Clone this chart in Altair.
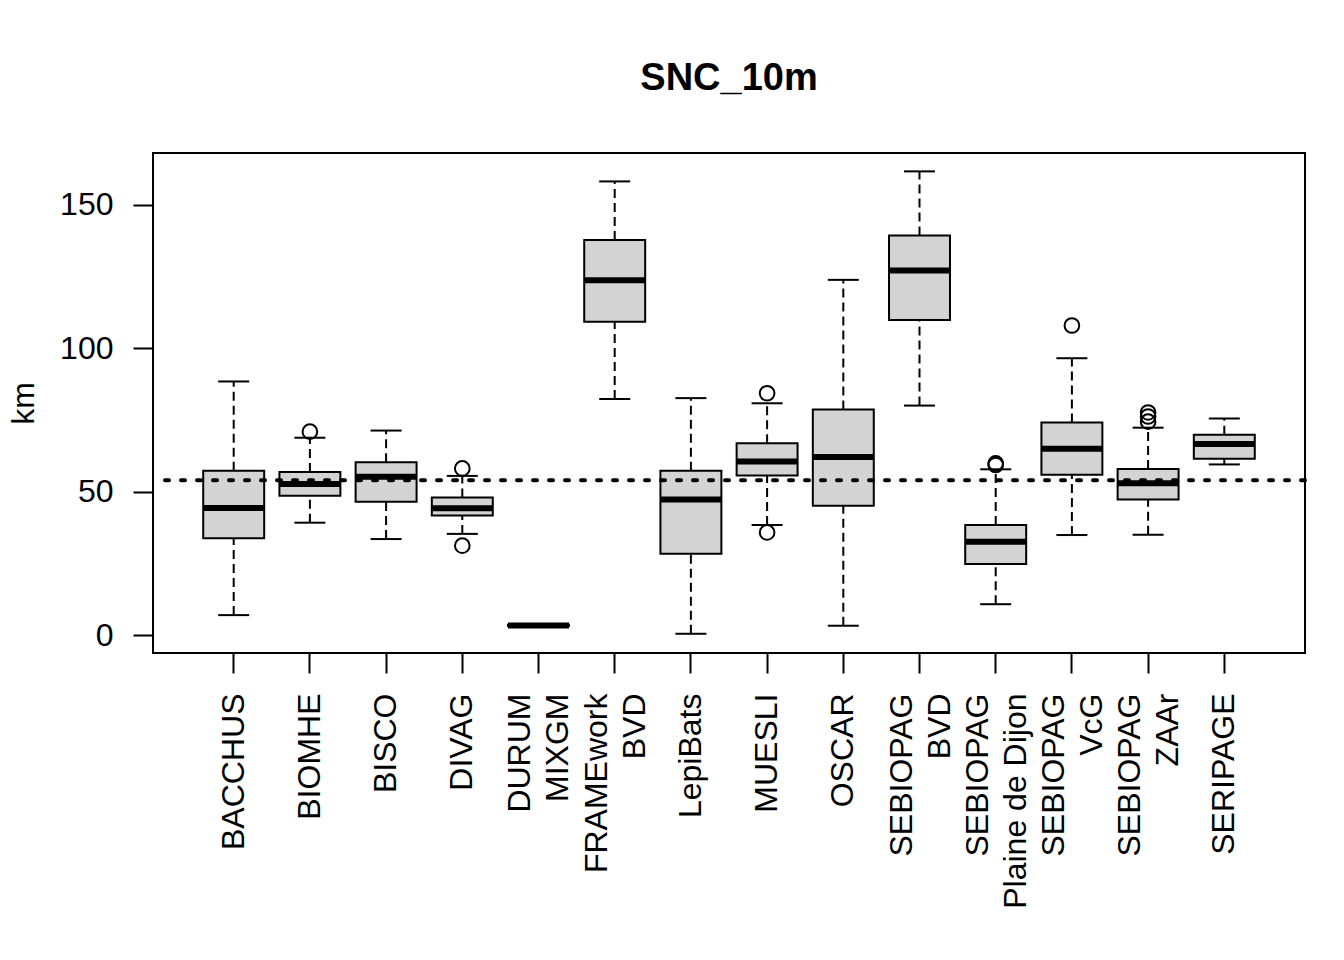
import altair as alt
import pandas as pd

categories = ["BACCHUS", "BIOMHE", "BISCO", "DIVAG", "DURUM|MIXGM", "FRAMEwork|BVD",
              "LepiBats", "MUESLI", "OSCAR", "SEBIOPAG|BVD", "SEBIOPAG|Plaine de Dijon",
              "SEBIOPAG|VcG", "SEBIOPAG|ZAAr", "SERIPAGE"]
lower_whisker = [7.0, 39.2, 33.5, 35.3, 3.1, 82.3, 0.5, 38.4, 3.3, 80.0, 10.8, 34.9, 35.0, 59.5]
q1 = [33.8, 48.6, 46.5, 41.7, 3.2, 109.2, 28.4, 55.6, 45.1, 109.8, 24.8, 55.9, 47.3, 61.5]
median = [44.3, 52.7, 55.2, 44.2, 3.4, 123.7, 47.3, 60.5, 62.1, 127.1, 32.6, 65.0, 52.9, 66.6]
q3 = [57.3, 56.9, 60.3, 48.0, 3.6, 137.7, 57.3, 66.9, 78.6, 139.3, 38.4, 74.1, 57.9, 69.8]
upper_whisker = [88.4, 68.8, 71.3, 55.5, 3.7, 158.1, 82.6, 80.8, 123.8, 161.6, 57.8, 96.5, 72.3, 75.5]

outlier_groups = ["BIOMHE", "DIVAG", "DIVAG", "MUESLI", "MUESLI",
                  "SEBIOPAG|Plaine de Dijon", "SEBIOPAG|Plaine de Dijon",
                  "SEBIOPAG|VcG", "SEBIOPAG|ZAAr", "SEBIOPAG|ZAAr", "SEBIOPAG|ZAAr"]
outlier_values = [70.9, 58.1, 31.2, 84.3, 35.8, 59.3, 59.9, 107.9, 74.4, 76.2, 77.6]

reference_value = [54.0]

df = pd.DataFrame({"group": categories, "lw": lower_whisker, "q1": q1,
                   "med": median, "q3": q3, "uw": upper_whisker})
out_df = pd.DataFrame({"group": outlier_groups, "value": outlier_values})
ref_df = pd.DataFrame({"ref": reference_value})

FONT = "Liberation Sans"

xscale = alt.Scale(paddingInner=0.2, paddingOuter=0.659)
xaxis = alt.Axis(labelAngle=270, labelAlign="right", labelBaseline="middle",
                 labelFontSize=32, labelFont=FONT, labelColor="black",
                 labelExpr="split(datum.label, '|')", labelLineHeight=38,
                 labelOffset={"condition": {"test": "indexof(datum.label, '|') >= 0", "value": -18},
                              "value": 0},
                 labelLimit=0, labelOverlap=False, labelPadding=20,
                 tickSize=20, tickWidth=2, tickColor="black", domain=False, grid=False)
yscale = alt.Scale(domain=[-6.2, 168.0], nice=False, zero=False)
yaxis = alt.Axis(values=[0, 50, 100, 150], labelAngle=0, labelFontSize=32, labelFont=FONT,
                 labelColor="black", labelPadding=20, tickSize=20, tickWidth=2,
                 tickColor="black", domain=False, grid=False,
                 titleFontSize=32, titleFont=FONT, titleFontWeight="normal", titleColor="black",
                 titleAngle=270, titleX=-130, titleY=250, titleAlign="center",
                 titleBaseline="middle")


def X():
    return alt.X("group:N", sort=categories, scale=xscale, axis=xaxis, title=None)


def Y(field):
    return alt.Y(field, type="quantitative", scale=yscale, axis=yaxis, title="km")


base = alt.Chart(df)

whisk_up = base.mark_rule(color="black", strokeWidth=2, strokeDash=[9, 5]).encode(
    x=X(), y=Y("q3"), y2="uw:Q")
whisk_lo = base.mark_rule(color="black", strokeWidth=2, strokeDash=[9, 5]).encode(
    x=X(), y=Y("lw"), y2="q1:Q")
cap_up = base.mark_tick(color="black", thickness=2, size=31, opacity=1).encode(x=X(), y=Y("uw"))
cap_lo = base.mark_tick(color="black", thickness=2, size=31, opacity=1).encode(x=X(), y=Y("lw"))
boxes = base.mark_bar(fill="#D3D3D3", stroke="black", strokeWidth=2, opacity=1).encode(
    x=X(), y=Y("q1"), y2="q3:Q")
medians = base.mark_tick(color="black", thickness=6, size=61, opacity=1).encode(x=X(), y=Y("med"))
outliers = alt.Chart(out_df).mark_point(shape="circle", filled=False, color="black",
                                        size=215, strokeWidth=2, opacity=1).encode(
    x=X(), y=Y("value"))
ref = alt.Chart(ref_df).mark_rule(color="black", strokeWidth=4, strokeDash=[4, 12],
                                  strokeCap="round").encode(y=Y("ref"))

chart = alt.layer(whisk_up, whisk_lo, cap_up, cap_lo, boxes, medians, outliers, ref).properties(
    width=1152, height=500,
    title=alt.TitleParams("SNC_10m", fontSize=38, fontWeight="bold", font=FONT, color="black",
                          anchor="middle", frame="group", baseline="alphabetic", offset=25),
    padding={"left": 145, "top": 145, "right": 31, "bottom": 290},
    autosize=alt.AutoSizeParams(type="none"),
    background="white",
).configure_view(stroke="black", strokeWidth=2)

chart.save("out.html", embed_options={"renderer": "svg", "actions": False})
